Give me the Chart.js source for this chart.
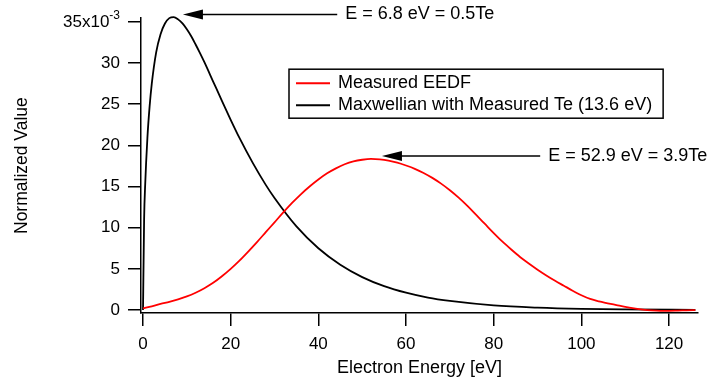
<!DOCTYPE html>
<html>
<head>
<meta charset="utf-8">
<script src="https://cdn.jsdelivr.net/npm/chart.js@4.4.1/dist/chart.umd.min.js"></script>
<style>
  html, body { margin: 0; padding: 0; background: #fff; }
</style>
</head>
<body>
<canvas id="eedfChart" width="711" height="383"></canvas>
<script>
// measured EEDF, energy in eV, value in units of 1e-3
const measuredE = [0,2,4,6,8,10,12,14,16,18,20,22,24,26,28,30,32,34,36,38,40,42,44,46,48,50,52,54,56,58,60,62,64,66,68,70,72,74,76,78,80,82,84,86,88,90,92,94,96,98,100,102,104,106,108,110,112,114,116,118,120,122,124,126];
const measuredVal = [0.2,0.45,0.75,1.0,1.3,1.65,2.1,2.65,3.3,4.1,5.0,6.0,7.1,8.25,9.45,10.65,11.85,13.0,14.05,15.0,15.85,16.6,17.2,17.7,18.05,18.25,18.35,18.3,18.15,17.9,17.55,17.15,16.65,16.05,15.35,14.55,13.65,12.65,11.55,10.45,9.35,8.3,7.35,6.45,5.65,4.9,4.2,3.55,2.95,2.35,1.8,1.35,1.05,0.82,0.6,0.38,0.2,0.05,-0.05,-0.1,-0.1,-0.07,-0.03,0];

// maxwellian with Te = 13.6 eV
const maxwellE = [0,0.25,0.5,1,1.5,2,3,4,5,6,7,8,9,10,11,12,13,14,16,18,20,22,25,28,30,35,40,45,50,55,60,65,70,80,90,100,110,126];
const maxwellVal = [0,11.0,15.3,20.9,24.7,27.5,31.3,33.5,34.8,35.45,35.58,35.3,34.8,34.1,33.25,32.25,31.2,30.1,27.75,25.4,23.1,20.9,17.9,15.2,13.6,10.15,7.5,5.5,4.0,2.9,2.1,1.5,1.1,0.56,0.29,0.14,0.07,0.02];

const seriesNames = ["Measured EEDF", "Maxwellian with Measured Te (13.6 eV)"];
const xTicks = [0,20,40,60,80,100,120];
const yTicks = [0,5,10,15,20,25,30,35];

// arrows: tip (E, value) and tail energy
const noteText = ["E = 6.8 eV = 0.5Te", "E = 52.9 eV = 3.9Te"];
const noteTipE = [9.1, 54.5];
const noteTipVal = [35.9, 18.7];
const noteTailE = [44.3, 90.6];

const FONT = '"Liberation Sans", Arial, sans-serif';

function pts(xs, ys) {
  return xs.map((x, i) => ({ x: x, y: ys[i] }));
}

const extras = {
  id: 'extras',
  afterDraw(chart) {
    const ctx = chart.ctx;
    const xs = chart.scales.x, ys = chart.scales.y;
    const area = chart.chartArea;
    ctx.save();
    ctx.fillStyle = '#000';
    ctx.strokeStyle = '#000';

    // top y label with exponent
    const py = ys.getPixelForValue(35);
    ctx.font = '12px ' + FONT;
    const supW = ctx.measureText('-3').width;
    const rightEdge = area.left - 13 - 8;
    ctx.textBaseline = 'middle';
    ctx.textAlign = 'left';
    ctx.fillText('-3', rightEdge - supW, py - 6);
    ctx.font = '17px ' + FONT;
    ctx.textAlign = 'right';
    ctx.fillText('35x10', rightEdge - supW, py);

    // arrows
    ctx.font = '18px ' + FONT;
    ctx.textAlign = 'left';
    ctx.lineWidth = 1.5;
    for (let i = 0; i < noteText.length; i++) {
      const tx = xs.getPixelForValue(noteTipE[i]);
      const ty = ys.getPixelForValue(noteTipVal[i]);
      const ex = xs.getPixelForValue(noteTailE[i]);
      ctx.beginPath();
      ctx.moveTo(tx + 18, ty);
      ctx.lineTo(ex, ty);
      ctx.stroke();
      ctx.beginPath();
      ctx.moveTo(tx, ty);
      ctx.lineTo(tx + 20, ty - 5);
      ctx.lineTo(tx + 20, ty + 5);
      ctx.closePath();
      ctx.fill();
      ctx.fillText(noteText[i], ex + 8, ty);
    }

    // legend box
    const lx = area.left + 148, ly = area.top + 51;
    let tw = 0;
    seriesNames.forEach(n => { tw = Math.max(tw, ctx.measureText(n).width); });
    ctx.lineWidth = 1.5;
    ctx.strokeRect(lx, ly, 49 + tw + 11, 49);
    const colors = ['#ff0000', '#000000'];
    seriesNames.forEach((n, i) => {
      const yy = ly + 14 + i * 22;
      ctx.strokeStyle = colors[i];
      ctx.lineWidth = 2;
      ctx.beginPath();
      ctx.moveTo(lx + 7, yy);
      ctx.lineTo(lx + 41, yy);
      ctx.stroke();
      ctx.fillStyle = '#000';
      ctx.fillText(n, lx + 49, yy);
    });
    ctx.restore();
  }
};

new Chart(document.getElementById('eedfChart'), {
  type: 'line',
  data: {
    datasets: [
      {
        label: seriesNames[0],
        data: pts(measuredE, measuredVal),
        borderColor: '#ff0000',
        borderWidth: 1.8,
        pointRadius: 0,
        cubicInterpolationMode: 'monotone',
        clip: false
      },
      {
        label: seriesNames[1],
        data: pts(maxwellE, maxwellVal),
        borderColor: '#000000',
        borderWidth: 1.8,
        pointRadius: 0,
        cubicInterpolationMode: 'monotone',
        clip: false
      }
    ]
  },
  options: {
    responsive: false,
    animation: false,
    devicePixelRatio: 1,
    layout: { padding: { top: 18, right: 13, left: 0, bottom: 0 } },
    plugins: { legend: { display: false }, tooltip: { enabled: false } },
    scales: {
      x: {
        type: 'linear',
        min: -0.46,
        max: 126.6,
        afterFit(scale) { scale.height = 70; },
        afterBuildTicks(scale) { scale.ticks = xTicks.map(v => ({ value: v })); },
        border: { display: true, color: '#000', width: 1.5 },
        grid: { display: true, drawOnChartArea: false, drawTicks: true, tickLength: 13, color: '#000', lineWidth: 1.5 },
        ticks: { color: '#000', font: { family: FONT, size: 17 }, padding: 8, maxRotation: 0 },
        title: { display: true, text: 'Electron Energy [eV]', color: '#000', font: { family: FONT, size: 18 }, padding: { top: 0, bottom: 4 } }
      },
      y: {
        min: -0.36,
        max: 35.44,
        afterFit(scale) { scale.width = 141; },
        afterBuildTicks(scale) { scale.ticks = yTicks.map(v => ({ value: v })); },
        border: { display: true, color: '#000', width: 1.5 },
        grid: { display: true, drawOnChartArea: false, drawTicks: true, tickLength: 13, color: '#000', lineWidth: 1.5 },
        ticks: {
          color: '#000',
          font: { family: FONT, size: 17 },
          padding: 8,
          callback: v => (v === 35 ? '' : String(v))
        },
        title: { display: true, text: 'Normalized Value', color: '#000', font: { family: FONT, size: 17.5 }, padding: { top: 12, bottom: 0 } }
      }
    }
  },
  plugins: [extras]
});
</script>
</body>
</html>
